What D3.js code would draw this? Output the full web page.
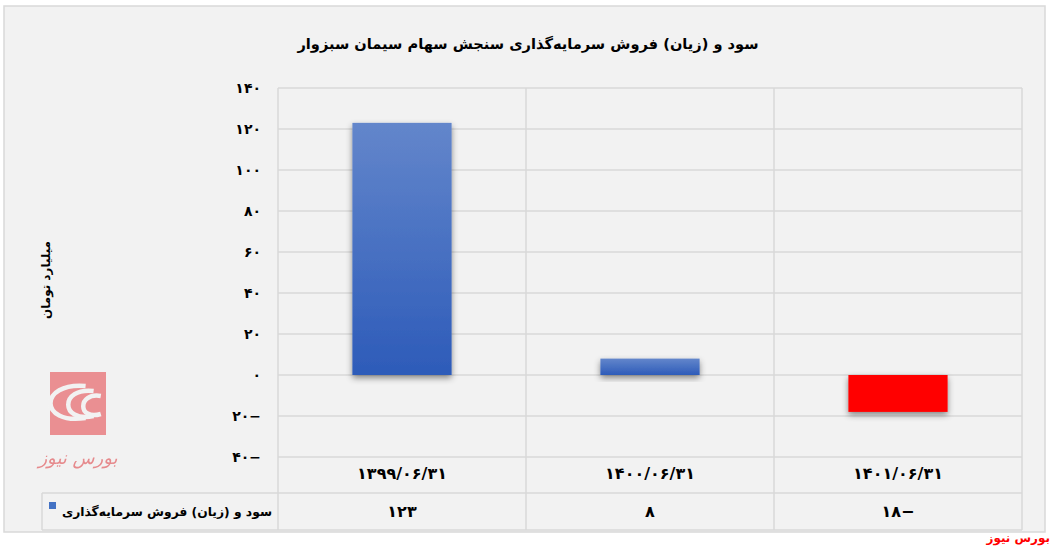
<!DOCTYPE html>
<html>
<head>
<meta charset="utf-8">
<script src="https://cdn.jsdelivr.net/npm/d3@7"></script>
<style>
  html, body { margin: 0; padding: 0; background: #ffffff; }
  svg { display: block; }
  text { font-family: "DejaVu Sans", sans-serif; }
</style>
</head>
<body>
<div id="chart"></div>
<script>
// ---- data ----
const title = "سود و (زیان) فروش سرمایه‌گذاری سنجش سهام سیمان سبزوار";
const yAxisTitle = "میلیارد تومان";
const seriesName = "سود و (زیان) فروش سرمایه‌گذاری";
const categories = ["۱۳۹۹/۰۶/۳۱", "۱۴۰۰/۰۶/۳۱", "۱۴۰۱/۰۶/۳۱"];
const values = [123, 8, -18];
const valueLabels = ["۱۲۳", "۸", "۱۸−"];
const yTicks = [-40, -20, 0, 20, 40, 60, 80, 100, 120, 140];
const yTickLabels = ["۴۰−", "۲۰−", "۰", "۲۰", "۴۰", "۶۰", "۸۰", "۱۰۰", "۱۲۰", "۱۴۰"];
const watermark = "بورس نیوز";

// ---- layout ----
const W = 1055, H = 546;
const plotL = 278, plotR = 1022, plotT = 88, plotB = 457;
const row1B = 493, row2B = 530, legendL = 42;
const gridColor = "#d9d9d9";

const svg = d3.select("#chart").append("svg").attr("width", W).attr("height", H);
const defs = svg.append("defs");

const gBlue = defs.append("linearGradient").attr("id", "blueGrad")
  .attr("x1", 0).attr("y1", 0).attr("x2", 0).attr("y2", 1);
gBlue.append("stop").attr("offset", "0%").attr("stop-color", "#6386cb");
gBlue.append("stop").attr("offset", "100%").attr("stop-color", "#2d5bb9");

const shadow = defs.append("filter").attr("id", "shadow")
  .attr("x", "-20%").attr("y", "-20%").attr("width", "140%").attr("height", "160%");
shadow.append("feDropShadow").attr("dx", 0).attr("dy", 3).attr("stdDeviation", 3)
  .attr("flood-color", "#000").attr("flood-opacity", 0.45);

// outer frame
svg.append("rect").attr("x", 4).attr("y", 6).attr("width", 1041).attr("height", 526)
  .attr("fill", "#f2f2f2").attr("stroke", gridColor).attr("stroke-width", 1.5);

// scales
const x = d3.scaleBand().domain(categories).range([plotL, plotR]).paddingInner(0.6).paddingOuter(0.3);
const xCell = d3.scaleBand().domain(categories).range([plotL, plotR]).padding(0);
const y = d3.scaleLinear().domain([-40, 140]).range([plotB, plotT]);

// horizontal gridlines
svg.append("g").selectAll("line").data(yTicks).join("line")
  .attr("x1", plotL).attr("x2", plotR)
  .attr("y1", d => y(d)).attr("y2", d => y(d))
  .attr("stroke", gridColor).attr("stroke-width", 1.5);

// table horizontal lines
[row1B, row2B].forEach(yy => {
  svg.append("line").attr("x1", legendL).attr("x2", plotR).attr("y1", yy).attr("y2", yy)
    .attr("stroke", gridColor).attr("stroke-width", 1.5);
});
svg.append("line").attr("x1", legendL).attr("x2", legendL).attr("y1", row1B).attr("y2", row2B)
  .attr("stroke", gridColor).attr("stroke-width", 1.5);

// vertical lines (category boundaries)
const vx = categories.map(c => xCell(c)).concat([plotR]);
svg.append("g").selectAll("line").data(vx).join("line")
  .attr("x1", d => d).attr("x2", d => d).attr("y1", plotT).attr("y2", row2B)
  .attr("stroke", gridColor).attr("stroke-width", 1.5);

// y tick labels
svg.append("g").selectAll("text").data(yTicks).join("text")
  .attr("x", 261).attr("y", d => y(d)).attr("dy", "0.35em")
  .attr("text-anchor", "end").attr("font-size", 14).attr("font-weight", "bold")
  .attr("fill", "#000")
  .attr("direction", "ltr").attr("unicode-bidi", "bidi-override")
  .text((d, i) => yTickLabels[i]);

// bars
svg.append("g").selectAll("rect").data(values).join("rect")
  .attr("x", (d, i) => x(categories[i]))
  .attr("width", x.bandwidth())
  .attr("y", d => y(Math.max(0, d)))
  .attr("height", d => Math.abs(y(d) - y(0)))
  .attr("fill", d => d < 0 ? "#ff0000" : "url(#blueGrad)")
  .attr("filter", "url(#shadow)");

// category labels
svg.append("g").selectAll("text").data(categories).join("text")
  .attr("x", d => xCell(d) + xCell.bandwidth() / 2).attr("y", (plotB + row1B) / 2 - 2)
  .attr("dy", "0.35em").attr("text-anchor", "middle")
  .attr("font-size", 16).attr("font-weight", "bold")
  .attr("direction", "ltr").attr("unicode-bidi", "bidi-override")
  .text(d => d);

// value labels
svg.append("g").selectAll("text").data(valueLabels).join("text")
  .attr("x", (d, i) => xCell(categories[i]) + xCell.bandwidth() / 2).attr("y", (row1B + row2B) / 2)
  .attr("dy", "0.35em").attr("text-anchor", "middle")
  .attr("font-size", 16).attr("font-weight", "bold")
  .attr("direction", "ltr").attr("unicode-bidi", "bidi-override")
  .text(d => d);

// legend cell
svg.append("rect").attr("x", 49).attr("y", 502).attr("width", 7).attr("height", 7).attr("fill", "#4472c4");
svg.append("text").attr("x", 272).attr("y", (row1B + row2B) / 2).attr("dy", "0.35em")
  .attr("text-anchor", "start").attr("direction", "rtl")
  .attr("font-size", 12.3).attr("font-weight", "bold").text(seriesName);

// title
svg.append("text").attr("x", 528).attr("y", 44).attr("dy", "0.35em")
  .attr("text-anchor", "middle").attr("direction", "rtl")
  .attr("font-size", 14.6).attr("font-weight", "bold").text(title);

// y axis title
svg.append("text").attr("transform", "translate(46,280) rotate(-90)")
  .attr("text-anchor", "middle").attr("dy", "0.35em").attr("direction", "rtl")
  .attr("font-size", 12).attr("font-weight", "bold").text(yAxisTitle);

// logo
const logo = svg.append("g").attr("opacity", 0.9);
logo.append("rect").attr("x", 50).attr("y", 372).attr("width", 56).attr("height", 63).attr("fill", "#ea8588");
[[64, 18, 0], [78, 13, 1], [90, 9, 2]].forEach(([cx, r, i]) => {
  logo.append("path")
    .attr("d", `M${cx + r * 1.2},${386 + i * 5} C${cx - r * 1.4},${382 + i * 5} ${cx - r * 1.4},${425 - i * 2} ${cx + r * 1.2},${418 - i * 2}`)
    .attr("fill", "none").attr("stroke", "#f2f2f2").attr("stroke-width", 4.5);
});
logo.append("text").attr("x", 78).attr("y", 464).attr("text-anchor", "middle")
  .attr("direction", "rtl").attr("font-size", 18).attr("font-style", "italic")
  .attr("fill", "#e57f83").text(watermark);

// watermark bottom right
svg.append("text").attr("x", 1050).attr("y", 538).attr("dy", "0.35em")
  .attr("text-anchor", "start").attr("direction", "rtl")
  .attr("font-size", 12).attr("font-weight", "bold").attr("fill", "#ff0000").text(watermark);
</script>
</body>
</html>
